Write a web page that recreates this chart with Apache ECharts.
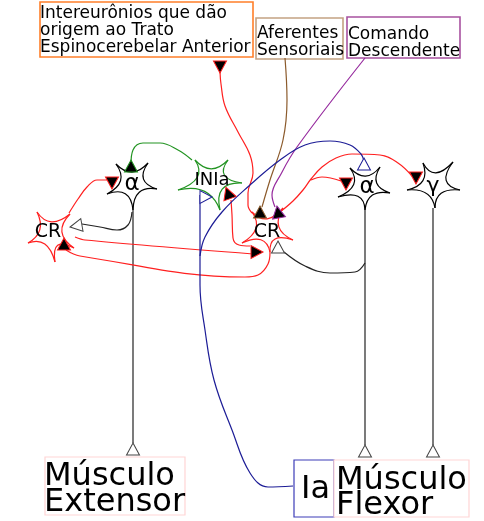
<!DOCTYPE html>
<html>
<head>
<meta charset="utf-8">
<script src="https://cdn.jsdelivr.net/npm/echarts@6/dist/echarts.min.js"></script>
<style>
  html, body { margin: 0; padding: 0; background: #fff; }
  #main { width: 484px; height: 521px; }
</style>
</head>
<body>
<div id="main"></div>
<script>
// neuron cells: centre + spike tips
var neuronNames = ['alphaL', 'crL', 'inia', 'crC', 'alphaR', 'gamma'];
var neuronCenters = [[132, 183], [49, 233], [211, 180], [267, 230], [366, 187], [433, 186]];
var neuronSpikes = [
  [[116, 164], [148, 163], [157, 189], [133, 210], [107, 194]],
  [[37, 212], [70, 214], [74, 248], [55, 262], [28, 243]],
  [[195, 160], [228, 160], [242, 183], [220, 210], [178, 190]],
  [[252, 212], [283, 208], [293, 240], [270, 252], [242, 243]],
  [[350, 168], [380, 167], [390, 193], [365, 210], [338, 197]],
  [[423, 163], [453, 162], [460, 190], [435, 208], [407, 190]]
];
var neuronLabels = ['α', 'CR', 'INIa', 'CR', 'α', 'γ'];
var labelPos = [[132, 184], [48, 232], [212, 180], [267, 232], [367, 187], [433, 186]];
var labelSize = [23, 19, 18, 19, 23, 22];

// axons and connections (point lists)
var axonL = [[133, 210], [133, 443]];
var axonR = [[365, 210], [365, 445]];
var axonG = [[433, 208], [433, 445]];
var greenInia = [[131, 164], [133, 150], [143, 143], [160, 143], [178, 150], [192, 160]];
var redCrlAlpha = [[69, 213], [78, 199], [87, 187], [97, 180], [108, 180]];
var grayAlphaCrl = [[132, 212], [128, 225], [117, 230], [100, 227], [82, 224]];
var redCrlCrc = [[75, 237], [85, 240], [253, 254]];
var redCrcCrl = [[270, 252], [268, 264], [258, 275], [245, 277], [80, 256], [66, 250]];
var redCrcInia = [[250, 246], [239, 245], [233, 238], [232, 215], [231, 200]];
var redAscend = [[252, 213], [248, 205], [248, 193], [253, 173], [250, 155], [238, 132], [225, 106], [221, 84], [220, 72]];
var redCrcGamma = [[280, 212], [293, 201], [303, 190], [311, 179], [322, 167], [336, 158], [352, 154], [380, 155], [398, 163], [412, 176]];
var redCrcAlpha = [[311, 180], [322, 177], [341, 181]];
var brownAff = [[285, 58], [287, 100], [283, 140], [270, 180], [262, 207]];
var purpleDesc = [[365, 58], [297, 147], [281, 174], [272, 195], [275, 207]];
var blueIa = [[293, 486], [268, 487], [250, 473], [232, 430], [214, 380], [205, 330], [200, 285], [200, 250], [200, 195]];
var blueAlpha = [[200, 256], [205, 237], [222, 212], [250, 185], [280, 160], [305, 145], [330, 141], [350, 145], [361, 154], [364, 161]];
var blackCrcAlpha = [[284, 252], [305, 266], [330, 273], [355, 272], [365, 263]];

// synapse terminals: position, rotation, kind
var synPos = [[133, 449], [365, 451], [433, 451], [131, 166], [112, 183], [76, 226], [64, 244], [257, 252],
  [228, 193], [220, 67], [346, 184], [416, 178], [260, 212], [278, 212], [206, 197], [364, 164], [278, 247]];
var synRot = [0, 0, 0, 0, 180, 100, 0, -90, 20, 180, 180, 180, 0, 10, -90, 0, 0];
var synKind = ['open', 'open', 'open', 'green', 'red', 'open', 'red', 'red',
  'red', 'red', 'red', 'red', 'brown', 'purple', 'blue', 'blue', 'open'];

// boxes: x1, y1, x2, y2
var boxes = [[40, 2, 253, 57], [256, 18, 343, 59], [347, 17, 460, 58], [45, 457, 185, 515], [294, 460, 334, 517], [334, 460, 469, 517]];
var boxColors = ['#ff7f2a', '#c4a283', '#a852a0', '#ffd5d5', '#3c3cb8', '#ffd5d5'];
var boxTexts = ['Intereurônios que dão\norigem ao Trato\nEspinocerebelar Anterior', 'Aferentes\nSensoriais', 'Comando\nDescendente',
  'Músculo\nExtensor', 'Ia', 'Músculo\nFlexor'];
var boxTextPos = [[40, 31], [257, 42], [348, 43], [44, 490], [301, 490], [336, 493]];
var boxTextSize = [17, 17, 17, 32, 32, 32];
var boxLineH = [17, 17, 17, 26, 26, 25];

var RED = '#ff2020', GREEN = '#229422', BLUE = '#1c1c96', BROWN = '#8b5a2b', PURPLE = '#962a9e';
var neuronColors = ['#000', RED, GREEN, RED, '#000', '#000'];
var kindStyle = {
  open: { color: '#fff', borderColor: '#444' },
  green: { color: '#000', borderColor: GREEN },
  red: { color: '#000', borderColor: RED },
  brown: { color: '#000', borderColor: BROWN },
  purple: { color: '#000', borderColor: PURPLE },
  blue: { color: '#fff', borderColor: BLUE }
};

var chart = echarts.init(document.getElementById('main'), null, { renderer: 'canvas' });

function pathSeries(pts, color, smooth) {
  return {
    type: 'line', data: pts, smooth: smooth, showSymbol: false, silent: true, z: 2,
    lineStyle: { color: color, width: 1.2 }
  };
}

// text drawn as custom series so each item keeps its own size
function textSeries(pos, texts, sizes, lineHs, align) {
  return {
    type: 'custom', silent: true, z: 5,
    data: pos,
    encode: { x: 0, y: 1 },
    renderItem: function (params, api) {
      var i = params.dataIndex;
      var p = api.coord(pos[i]);
      return {
        type: 'text',
        style: {
          x: p[0], y: p[1], text: texts[i], fill: '#000',
          fontSize: sizes[i], fontFamily: 'DejaVu Sans',
          lineHeight: lineHs ? lineHs[i] : sizes[i] * 1.2,
          align: align, verticalAlign: 'middle'
        }
      };
    }
  };
}

var series = [
  pathSeries(axonL, '#222', false),
  pathSeries(axonR, '#222', false),
  pathSeries(axonG, '#222', false),
  pathSeries(greenInia, GREEN, 0.4),
  pathSeries(redCrlAlpha, RED, 0.4),
  pathSeries(grayAlphaCrl, '#222', 0.4),
  pathSeries(redCrlCrc, RED, 0.3),
  pathSeries(redCrcCrl, RED, 0.4),
  pathSeries(redCrcInia, RED, 0.4),
  pathSeries(redAscend, RED, 0.4),
  pathSeries(redCrcGamma, RED, 0.4),
  pathSeries(redCrcAlpha, RED, 0.4),
  pathSeries(brownAff, BROWN, 0.4),
  pathSeries(purpleDesc, PURPLE, 0.4),
  pathSeries(blueIa, BLUE, 0.4),
  pathSeries(blueAlpha, BLUE, 0.4),
  pathSeries(blackCrcAlpha, '#222', 0.4),
  {
    // cell bodies drawn as concave stars
    type: 'custom', silent: true, z: 3,
    data: neuronCenters,
    encode: { x: 0, y: 1 },
    renderItem: function (params, api) {
      var i = params.dataIndex;
      var c = api.coord(neuronCenters[i]);
      var pts = neuronSpikes[i].map(function (p) { return api.coord(p); });
      var kids = [];
      for (var k = 0; k < pts.length; k++) {
        var a = pts[k], b = pts[(k + 1) % pts.length];
        var mx = (a[0] + b[0]) / 2, my = (a[1] + b[1]) / 2;
        kids.push({
          type: 'bezierCurve',
          shape: { x1: a[0], y1: a[1], x2: b[0], y2: b[1], cpx1: c[0] + (mx - c[0]) * 0.12, cpy1: c[1] + (my - c[1]) * 0.12 },
          style: { stroke: neuronColors[i], fill: null, lineWidth: 1.2 }
        });
      }
      return { type: 'group', children: kids };
    }
  },
  {
    type: 'custom', silent: true, z: 1,
    data: boxes.map(function (b) { return [b[0], b[1], b[2], b[3]]; }),
    renderItem: function (params, api) {
      var b = boxes[params.dataIndex];
      var p1 = api.coord([b[0], b[1]]), p2 = api.coord([b[2], b[3]]);
      return {
        type: 'rect',
        shape: { x: p1[0], y: p1[1], width: p2[0] - p1[0], height: p2[1] - p1[1] },
        style: { stroke: boxColors[params.dataIndex], fill: '#fff', lineWidth: params.dataIndex < 3 ? 1.6 : 1.2 }
      };
    }
  },
  {
    type: 'scatter', silent: true, z: 4, symbol: 'triangle', symbolSize: [13, 12],
    itemStyle: { opacity: 1 },
    data: synPos.map(function (p, i) {
      var s = kindStyle[synKind[i]];
      return { value: p, symbolRotate: synRot[i], itemStyle: { color: s.color, borderColor: s.borderColor, borderWidth: 1, opacity: 1 } };
    })
  },
  textSeries(labelPos, neuronLabels, labelSize, null, 'center'),
  textSeries(boxTextPos, boxTexts, boxTextSize, boxLineH, 'left')
];

chart.setOption({
  animation: false,
  backgroundColor: '#fff',
  grid: { left: 0, right: 0, top: 0, bottom: 0 },
  xAxis: { type: 'value', min: 0, max: 484, show: false },
  yAxis: { type: 'value', min: 0, max: 521, inverse: true, show: false },
  series: series
});
</script>
</body>
</html>
